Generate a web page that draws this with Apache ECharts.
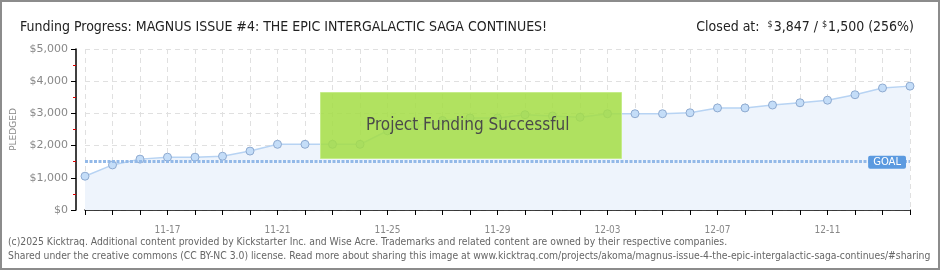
<!DOCTYPE html>
<html><head><meta charset="utf-8">
<script src="https://cdn.jsdelivr.net/npm/echarts@6/dist/echarts.min.js"></script>
<style>
html,body{margin:0;padding:0;background:#fff;}
#frame{width:940px;height:270px;box-sizing:border-box;border:2px solid #8c8c8c;position:relative;overflow:hidden;}
#chart{position:absolute;left:-2px;top:-2px;width:940px;height:270px;}
</style></head>
<body><div id="frame"><div id="chart"></div></div>
<script>
const dates = ['11-14','11-15','11-16','11-17','11-18','11-19','11-20','11-21','11-22','11-23','11-24','11-25','11-26','11-27','11-28','11-29','11-30','12-01','12-02','12-03','12-04','12-05','12-06','12-07','12-08','12-09','12-10','12-11','12-12','12-13','12-14'];
const pledged = [1050,1400,1580,1640,1640,1670,1830,2040,2040,2040,2040,2460,2620,2780,2860,2860,2960,2920,2880,2990,2990,2990,3020,3170,3170,3260,3330,3410,3580,3790,3847];
const goal = 1500;
const titleText = 'Funding Progress: MAGNUS ISSUE #4: THE EPIC INTERGALACTIC SAGA CONTINUES!';
const footer1 = '(c)2025 Kicktraq. Additional content provided by Kickstarter Inc. and Wise Acre. Trademarks and related content are owned by their respective companies.';
const footer2 = 'Shared under the creative commons (CC BY-NC 3.0) license. Read more about sharing this image at www.kicktraq.com/projects/akoma/magnus-issue-4-the-epic-intergalactic-saga-continues/#sharing';

const FONT = '"Liberation Sans Narrow", "DejaVu Sans Condensed", sans-serif';
const chart = echarts.init(document.getElementById('chart'), null, {renderer:'canvas'});
chart.setOption({
  animation:false,
  textStyle:{fontFamily:FONT},
  grid:{left:85,right:30,top:49,bottom:60},
  title:[
    {text:titleText,left:15,top:15,textStyle:{fontFamily:FONT,fontSize:14,fontWeight:'normal',color:'#222'}},
    {text:'Closed at:  {s|$}3,847 / {s|$}1,500 (256%)',right:21,top:15,
     textStyle:{fontFamily:FONT,fontSize:14,fontWeight:'normal',color:'#222',
       rich:{s:{fontFamily:FONT,fontSize:9,verticalAlign:'top',color:'#222',padding:[0,1,6,0]}}}}
  ],
  xAxis:{
    type:'category',data:dates,boundaryGap:false,offset:9,
    axisLine:{lineStyle:{color:'#000',width:1.5}},
    axisTick:{show:true,interval:0,length:5,lineStyle:{color:'#000'}},
    axisLabel:{interval:function(i){return (i-3)%4===0;},color:'#888',fontSize:10,margin:6,fontFamily:FONT},
    splitLine:{show:true,interval:0,lineStyle:{color:'#e0e0e0',type:[5,4]}}
  },
  yAxis:{
    type:'value',min:0,max:5000,interval:1000,offset:9,
    name:'PLEDGED',nameLocation:'middle',nameRotate:90,nameGap:52,
    nameTextStyle:{color:'#888',fontSize:9,fontFamily:'DejaVu Sans'},
    axisLine:{show:true,lineStyle:{color:'#000',width:1.5}},
    axisTick:{show:true,length:5,lineStyle:{color:'#000'}},
    minorTick:{show:true,splitNumber:2,length:3,lineStyle:{color:'#d00'}},
    axisLabel:{color:'#888',fontSize:11,margin:8,fontFamily:'DejaVu Sans',
      formatter:function(v){return '$'+v.toLocaleString('en-US');}},
    splitLine:{show:true,lineStyle:{color:'#e0e0e0',type:[5,4]}}
  },
  series:[{
    type:'line',data:pledged,symbol:'circle',symbolSize:8,z:2,
    itemStyle:{color:'#c4ddf8',borderColor:'#8eaad0',borderWidth:1},
    lineStyle:{color:'#b7d3f3',width:1.5},
    areaStyle:{color:'#eef4fc',opacity:1},
    markLine:{
      silent:true,symbol:'none',
      lineStyle:{color:'#93b9e8',width:3,type:[3,1.5]},
      label:{show:true,position:'insideEndTop',distance:[4,-7],formatter:'GOAL',
        color:'#fff',backgroundColor:'#5b9ae0',padding:[2,5,1,5],borderRadius:2,fontSize:10,fontFamily:'DejaVu Sans'},
      data:[{yAxis:goal}]
    }
  }],
  graphic:{elements:[
    {type:'rect',left:320,top:92,z:100,zlevel:1,shape:{width:301,height:66},style:{fill:'rgba(164,221,70,0.86)',stroke:'#c5ec8a',lineWidth:1}},
    {type:'text',z:101,zlevel:1,left:366,top:117,style:{text:'Project Funding Successful',fill:'#4a4a4a',font:'17px '+FONT,textShadowColor:'#fff',textShadowOffsetX:1,textShadowOffsetY:1,textShadowBlur:0}},
    {type:'text',left:8,top:237,style:{text:footer1,fill:'#666',font:'10.3px '+FONT}},
    {type:'text',left:8,top:251,style:{text:footer2,fill:'#666',font:'10.3px '+FONT}}
  ]}
});
</script></body></html>
